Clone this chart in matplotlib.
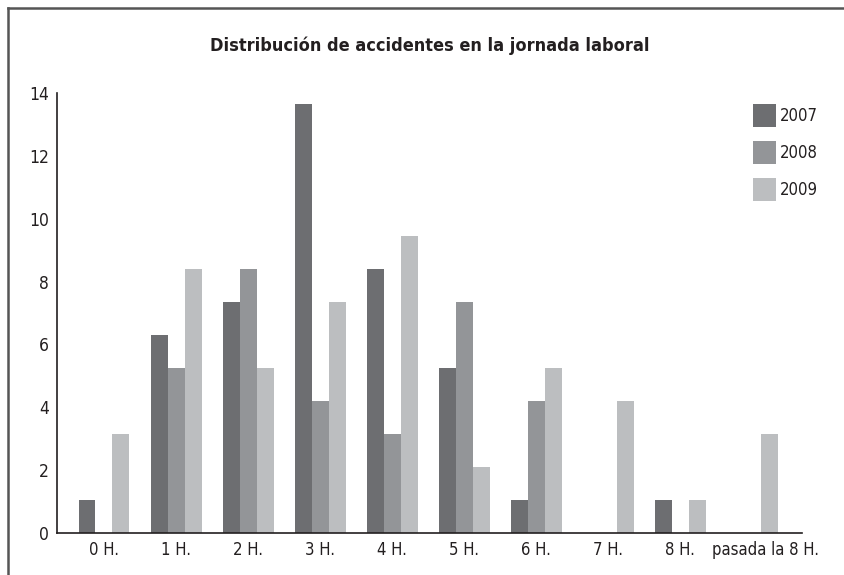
import numpy as np
import matplotlib
matplotlib.use("Agg")
import matplotlib.pyplot as plt
from matplotlib.lines import Line2D
from matplotlib.patches import Patch
from matplotlib.transforms import ScaledTranslation

plt.rcParams['font.family'] = ['DejaVu Sans']
plt.rcParams['font.stretch'] = 'condensed'

categories = ["0 H.", "1 H.", "2 H.", "3 H.", "4 H.", "5 H.", "6 H.", "7 H.", "8 H.", "pasada la 8 H."]
years = ["2007", "2008", "2009"]
# bar heights as drawn against the y axis
v2007 = [1.05, 6.31, 7.36, 13.67, 8.41, 5.26, 1.05, 0, 1.05, 0]
v2008 = [0, 5.26, 8.41, 4.21, 3.15, 7.36, 4.21, 0, 0, 0]
v2009 = [3.15, 8.41, 5.26, 7.36, 9.46, 2.10, 5.26, 4.21, 1.05, 3.15]
colors = ["#6d6e71", "#939598", "#bcbec0"]
txt = "#231f20"

fig = plt.figure(figsize=(8.44, 5.75), dpi=100)
ax = fig.add_axes([0.0675, 0.0736, 0.8825, 0.7641])

x = np.arange(len(categories))
w = 0.236
for k, vals in enumerate([v2007, v2008, v2009]):
    ax.bar(x + (k - 1) * w, vals, width=w, color=colors[k], label=years[k])

ax.set_xlim(-0.653, 9.69)
ax.set_ylim(0, 14)
ax.set_yticks(range(0, 15, 2))
ax.set_yticks([0], minor=True)
ax.set_xticks(x)
ax.set_xticklabels(categories)
ax.tick_params(axis='y', which='major', length=0, pad=6, labelsize=12.5, labelcolor=txt)
ax.tick_params(axis='y', which='minor', length=5, width=1, color=txt)
ax.tick_params(axis='x', length=0, pad=6, labelsize=12, labelcolor=txt)
# last label sits a bit to the right in the original
last = ax.get_xticklabels()[-1]
last.set_transform(last.get_transform() + ScaledTranslation(13 / 100, 0, fig.dpi_scale_trans))
for s in ["top", "right"]:
    ax.spines[s].set_visible(False)
for s in ["left", "bottom"]:
    ax.spines[s].set_color(txt)
    ax.spines[s].set_linewidth(1.2)

fig.text(0.509, 1 - 46 / 575, "Distribución de accidentes en la jornada laboral",
         ha="center", va="center", fontsize=13, fontweight="bold", color=txt)

handles = [Patch(facecolor=c, edgecolor="none") for c in colors]
ax.legend(handles, years, loc="upper left", bbox_to_anchor=(0.934, 0.976),
          frameon=False, fontsize=12, handlelength=1.38, handleheight=1.75,
          labelspacing=0.84, handletextpad=0.25, borderaxespad=0, borderpad=0,
          labelcolor=txt)

# frame around the figure (right and bottom edges are cut off)
fig.add_artist(Line2D([8 / 844, 1.0], [1 - 8 / 575, 1 - 8 / 575], color="#555555", lw=1.8,
                      transform=fig.transFigure))
fig.add_artist(Line2D([8 / 844, 8 / 844], [0.0, 1 - 8 / 575], color="#555555", lw=1.8,
                      transform=fig.transFigure))

fig.savefig("out.png", dpi=100)
